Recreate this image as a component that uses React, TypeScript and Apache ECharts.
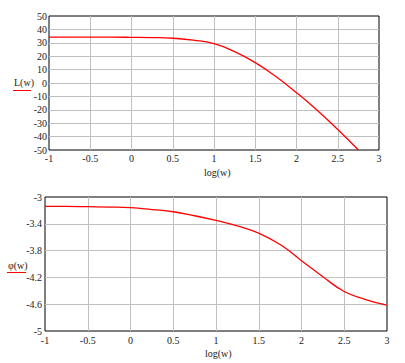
import React, { useEffect, useRef } from "react";
import * as echarts from "echarts";

const logW = [-1, -0.75, -0.5, -0.25, 0, 0.25, 0.5, 0.75, 1, 1.25, 1.5, 1.75, 2, 2.25, 2.5, 2.75];
const magnitude = [34.2, 34.2, 34.2, 34.2, 34.1, 33.9, 33.4, 32.0, 29.3, 23.4, 15.2, 4.8, -7.2, -20.3, -34.7, -50.0];

const logWPhase = [-1, -0.75, -0.5, -0.25, 0, 0.25, 0.5, 0.75, 1, 1.25, 1.5, 1.75, 2, 2.25, 2.5, 2.75, 3];
const phase = [-3.14, -3.14, -3.145, -3.15, -3.16, -3.187, -3.22, -3.28, -3.35, -3.43, -3.54, -3.71, -3.95, -4.19, -4.41, -4.53, -4.615];

const xTicks = [-1, 3, 0.5];
const magTicks = [-50, 50, 10];
const phaseTicks = [-5, -3, 0.4];

const FONT = "Liberation Serif";

export default function App() {
  const ref = useRef<HTMLDivElement>(null);
  useEffect(() => {
    if (!ref.current) return;
    const chart = echarts.init(ref.current, null, { renderer: "svg" });
    const fmt = (v: number) => String(Math.round(v * 10) / 10);
    const axisCommon = {
      type: "value" as const,
      axisLine: { show: false },
      axisTick: { show: false },
      splitLine: { show: true, showMinLine: false, showMaxLine: false, lineStyle: { color: "#c0c0c0", width: 1 } },
    };
    const lbl = (margin: number) => ({ fontFamily: FONT, fontSize: 10, color: "#222", margin, formatter: fmt });
    chart.setOption({
      animation: false,
      grid: [
        { left: 49, right: 26, top: 16, height: 134, show: true, borderColor: "#000", borderWidth: 1, backgroundColor: "transparent" },
        { left: 45, right: 18, top: 197, height: 134, show: true, borderColor: "#000", borderWidth: 1, backgroundColor: "transparent" },
      ],
      xAxis: [
        { ...axisCommon, gridIndex: 0, min: xTicks[0], max: xTicks[1], interval: xTicks[2], axisLabel: lbl(3) },
        { ...axisCommon, gridIndex: 1, min: xTicks[0], max: xTicks[1], interval: xTicks[2], axisLabel: lbl(4) },
      ],
      yAxis: [
        { ...axisCommon, gridIndex: 0, min: magTicks[0], max: magTicks[1], interval: magTicks[2], axisLabel: lbl(2) },
        { ...axisCommon, gridIndex: 1, min: phaseTicks[0], max: phaseTicks[1], interval: phaseTicks[2], axisLabel: lbl(3) },
      ],
      series: [
        {
          type: "line",
          xAxisIndex: 0,
          yAxisIndex: 0,
          data: logW.map((x, i) => [x, magnitude[i]]),
          smooth: 0.5,
          showSymbol: false,
          lineStyle: { color: "#ff0000", width: 1.3 },
          clip: true,
        },
        {
          type: "line",
          xAxisIndex: 1,
          yAxisIndex: 1,
          data: logWPhase.map((x, i) => [x, phase[i]]),
          smooth: 0.5,
          showSymbol: false,
          lineStyle: { color: "#ff0000", width: 1.3 },
          clip: true,
        },
      ],
      graphic: [
        { type: "text", left: 204, top: 167, style: { text: "log(w)", font: `10px "${FONT}"`, fill: "#222" } },
        { type: "text", left: 205, top: 348, style: { text: "log(w)", font: `10px "${FONT}"`, fill: "#222" } },
        { type: "text", left: 14, top: 77, style: { text: "L(w)", font: `10px "${FONT}"`, fill: "#222" } },
        { type: "line", shape: { x1: 13, y1: 90.5, x2: 31, y2: 90.5 }, style: { stroke: "#ff0000", lineWidth: 1 } },
        { type: "text", left: 8, top: 260, style: { text: "φ(w)", font: `10px "${FONT}"`, fill: "#222" } },
        { type: "line", shape: { x1: 7, y1: 272.5, x2: 26, y2: 272.5 }, style: { stroke: "#ff0000", lineWidth: 1 } },
      ],
    });
    return () => chart.dispose();
  }, []);
  return (
    <div
      ref={ref}
      style={{ position: "fixed", left: 0, top: 0, width: 405, height: 363, background: "#fff" }}
    />
  );
}
